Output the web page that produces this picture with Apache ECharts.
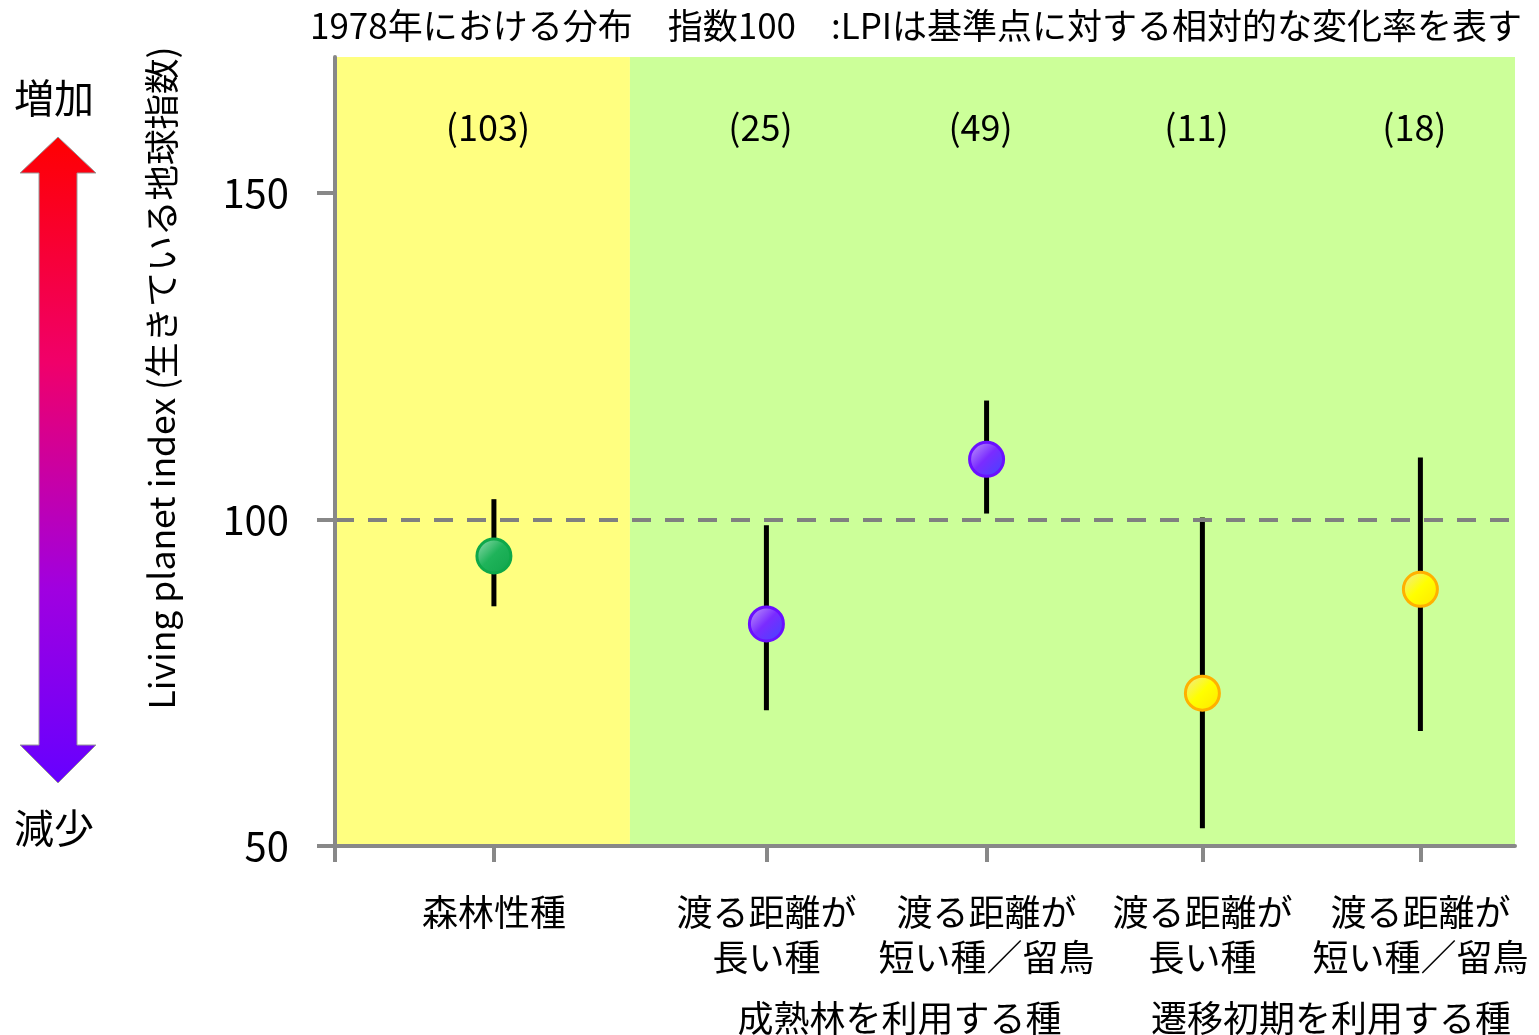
<!DOCTYPE html>
<html>
<head>
<meta charset="utf-8">
<script src="https://cdn.jsdelivr.net/npm/echarts@6/dist/echarts.min.js"></script>
<style>
html,body{margin:0;padding:0;background:#fff;}
#chart{width:1539px;height:1035px;}
</style>
</head>
<body>
<div id="chart"></div>
<script>
// ---- data ----
const categories = ['森林性種', '渡る距離が\n長い種', '渡る距離が\n短い種／留鳥', '渡る距離が\n長い種', '渡る距離が\n短い種／留鳥'];
const xPos = [1, 2.25, 3.26, 4.25, 5.25];
const lpi = [94.4, 84.0, 109.2, 73.4, 89.3];
const upper = [103.1, 99.1, 118.2, 100.3, 109.5];
const lower = [86.7, 70.8, 100.9, 52.7, 67.6];
const counts = ['(103)', '(25)', '(49)', '(11)', '(18)'];
const pointGroup = ['forest', 'mature', 'mature', 'early', 'early'];
const groupLabels = ['成熟林を利用する種', '遷移初期を利用する種'];
const groupPos = [2.86, 4.84];
const yTicks = [50, 100, 150];
const baseline = 100;
const countLabelY = 160;
const xMin = 0.271, xMax = 5.684, habitatBoundary = 1.624;
const yMin = 50, yMax = 170.8;
const titleText = '1978年における分布　指数100　:LPIは基準点に対する相対的な変化率を表す';
const yName = 'Living planet index (生きている地球指数)';

const FONT = '"Noto Sans CJK JP", "Noto Sans", sans-serif';

function grad(c0, c1, c2) {
  return new echarts.graphic.LinearGradient(0, 0, 1, 1, [
    { offset: 0, color: c0 }, { offset: 0.48, color: c1 }, { offset: 1, color: c2 }
  ]);
}
const styles = {
  forest: { color: grad('#9fe0b8', '#1fb35a', '#0fa34a'), borderColor: '#0ea84a' },
  mature: { color: grad('#c8a8f8', '#7a2cff', '#3c48ff'), borderColor: '#6a10ff' },
  early:  { color: grad('#ece6a8', '#ffff00', '#ffe400'), borderColor: '#ffb000' }
};

function nearestIndex(v, arr) {
  let best = 0, d = Infinity;
  arr.forEach((a, i) => { if (Math.abs(a - v) < d) { d = Math.abs(a - v); best = i; } });
  return best;
}

const chart = echarts.init(document.getElementById('chart'));
chart.setOption({
  animation: false,
  title: {
    text: titleText, left: 305, top: 3,
    textStyle: { fontSize: 35, fontWeight: 'normal', color: '#000', fontFamily: FONT }
  },
  grid: { left: 335, right: 24, top: 57, bottom: 189, containLabel: false, outerBoundsMode: 'none' },
  xAxis: [{
    type: 'value', min: xMin, max: xMax, z: 10,
    splitLine: { show: false },
    axisLine: { show: true, onZero: false, lineStyle: { color: '#888', width: 4 } },
    axisTick: { show: true, length: 16, lineStyle: { color: '#888', width: 4 }, customValues: [xMin].concat(xPos) },
    axisLabel: {
      customValues: xPos, margin: 44, fontSize: 36, lineHeight: 45, color: '#000', fontFamily: FONT,
      formatter: v => categories[nearestIndex(v, xPos)]
    }
  }, {
    type: 'value', min: xMin, max: xMax, position: 'bottom',
    splitLine: { show: false }, axisLine: { show: false }, axisTick: { show: false },
    axisLabel: {
      customValues: groupPos, margin: 150, fontSize: 36, lineHeight: 45, color: '#000', fontFamily: FONT,
      formatter: v => groupLabels[nearestIndex(v, groupPos)]
    }
  }],
  yAxis: {
    type: 'value', min: yMin, max: yMax, z: 10,
    splitLine: { show: false },
    axisLine: { show: true, lineStyle: { color: '#888', width: 4 } },
    axisTick: { show: true, length: 18, lineStyle: { color: '#888', width: 4 }, customValues: yTicks },
    axisLabel: { customValues: yTicks, margin: 46, fontSize: 40, color: '#000', fontFamily: FONT }
  },
  graphic: [
    {
      type: 'polygon', z: 5,
      shape: { points: [[58, 137], [96, 173], [77, 173], [77, 745], [96, 745], [58, 783], [20, 745], [39, 745], [39, 173], [20, 173]] },
      style: {
        fill: new echarts.graphic.LinearGradient(0, 0, 0, 1, [
          { offset: 0, color: '#ff0000' }, { offset: 0.35, color: '#f0006a' },
          { offset: 0.7, color: '#a000e0' }, { offset: 1, color: '#6600ff' }
        ]),
        stroke: '#999', lineWidth: 1
      }
    },
    { type: 'text', x: 54, y: 98, style: { text: '増加', fill: '#000', font: '40px ' + FONT, align: 'center', verticalAlign: 'middle' } },
    { type: 'text', x: 54, y: 828, style: { text: '減少', fill: '#000', font: '40px ' + FONT, align: 'center', verticalAlign: 'middle' } },
    { type: 'text', x: 162, y: 378, rotation: Math.PI / 2, style: { text: yName, font: '35.5px ' + FONT, fill: '#000', align: 'center', verticalAlign: 'middle' } }
  ],
  series: [
    {
      type: 'line', z: 1, silent: true, data: [],
      markArea: {
        silent: true,
        data: [
          [{ xAxis: xMin, itemStyle: { color: '#ffff80' } }, { xAxis: habitatBoundary }],
          [{ xAxis: habitatBoundary, itemStyle: { color: '#ccff99' } }, { xAxis: xMax }]
        ]
      },
      markLine: {
        silent: true, symbol: 'none', label: { show: false },
        lineStyle: { color: '#808080', width: 4, type: [19, 14] },
        data: [{ yAxis: baseline }]
      }
    },
    {
      type: 'custom', z: 3, silent: true,
      data: xPos.map((x, i) => [x, lower[i], upper[i]]),
      encode: { x: 0, y: [1, 2] },
      renderItem: (params, api) => {
        const p1 = api.coord([api.value(0), api.value(1)]);
        const p2 = api.coord([api.value(0), api.value(2)]);
        return { type: 'line', shape: { x1: p1[0], y1: p1[1], x2: p2[0], y2: p2[1] }, style: { stroke: '#000', lineWidth: 5 } };
      }
    },
    {
      type: 'scatter', z: 4, symbol: 'circle', symbolSize: 34,
      data: xPos.map((x, i) => ({
        value: [x, lpi[i]],
        itemStyle: { color: styles[pointGroup[i]].color, borderColor: styles[pointGroup[i]].borderColor, borderWidth: 3, opacity: 1 }
      }))
    },
    {
      type: 'scatter', z: 6, symbolSize: 1, silent: true,
      itemStyle: { opacity: 0 },
      data: xPos.map((x, i) => [x, countLabelY]),
      label: {
        show: true, position: 'inside', offset: [-6, 0], fontSize: 36, color: '#000', opacity: 1, fontFamily: FONT,
        formatter: p => counts[p.dataIndex]
      }
    }
  ]
});
</script>
</body>
</html>
